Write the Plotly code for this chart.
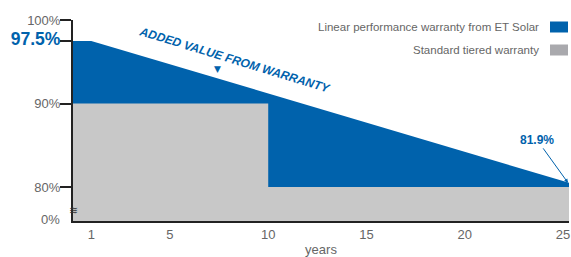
import plotly.graph_objects as go

# ---- data ----
linear_years = [0, 1, 25.3]
linear_values = [97.5, 97.5, 80.5]
tiered_years = [0, 10, 25.3]
tiered_values = [90, 80, 80]

x_tick_vals = [1, 5, 10, 15, 20, 25]
y_tick_vals = [80, 90, 97.5, 100]
y_tick_text = ["80%", "90%", "97.5%", "100%"]
axis_floor = 75.93
floor_label = "0%"
end_label = "81.9%"

series_names = ["Linear performance warranty from ET Solar", "Standard tiered warranty"]
BLUE = "#0062AC"
GRAY_FILL = "#C8C8C8"
GRAY_SWATCH = "#A9A9AD"
TEXT = "#666666"
FONT = "Liberation Sans, Arial, DejaVu Sans, sans-serif"

fig = go.Figure()
fig.add_trace(go.Scatter(x=linear_years, y=linear_values, mode="lines", fill="tozeroy",
                         fillcolor=BLUE, line=dict(width=0, color=BLUE),
                         name=series_names[0], showlegend=False, hoverinfo="skip"))
fig.add_trace(go.Scatter(x=tiered_years, y=tiered_values, mode="lines", fill="tozeroy",
                         line_shape="hv", fillcolor=GRAY_FILL, line=dict(width=0, color=GRAY_FILL),
                         name=series_names[1], showlegend=False, hoverinfo="skip"))

ticktext = []
for v, t in zip(y_tick_vals, y_tick_text):
    if v == 97.5:
        ticktext.append(f"<b><span style='color:{BLUE};font-size:17.5px'>{t}</span></b>")
    else:
        ticktext.append(t)

fig.update_layout(
    width=571, height=257,
    margin=dict(l=73, r=2, t=20, b=36, autoexpand=False),
    paper_bgcolor="white", plot_bgcolor="white",
    font=dict(family=FONT, color=TEXT, size=13),
    xaxis=dict(range=[0.07, 25.3], tickvals=x_tick_vals, showgrid=False, zeroline=False,
               showline=True, linecolor="#222222", linewidth=2, ticks="",
               tickfont=dict(size=13, color=TEXT), ticklabelstandoff=0, automargin=False,
               title=dict(text="years", font=dict(size=13, color=TEXT), standoff=12)),
    yaxis=dict(range=[axis_floor, 100], tickvals=y_tick_vals, ticktext=ticktext,
               showgrid=False, zeroline=False, showline=True, linecolor="#222222", linewidth=2,
               ticks="outside", ticklen=11, tickwidth=2, tickcolor="#222222", automargin=False,
               tickfont=dict(size=13, color=TEXT), ticklabelstandoff=-3),
)

# legend (text left of swatch)
legend_rows = [(series_names[0], BLUE, 27), (series_names[1], GRAY_SWATCH, 50)]
for name, col, ypx in legend_rows:
    yc = 1 - (ypx - 20) / 201
    fig.add_annotation(xref="paper", yref="paper", x=(541 - 73) / 496, y=yc, text=name,
                       showarrow=False, xanchor="right", yanchor="middle",
                       font=dict(size=11.5, color=TEXT, family=FONT))
    fig.add_shape(type="rect", xref="paper", yref="paper",
                  x0=(550 - 73) / 496, x1=(568 - 73) / 496,
                  y0=yc - 5.5 / 201, y1=yc + 5.5 / 201,
                  fillcolor=col, line=dict(width=0))

# "0%" label at axis floor
fig.add_annotation(xref="paper", yref="y", x=0, y=axis_floor, text=floor_label,
                   showarrow=False, xanchor="right", yanchor="middle", xshift=-11, yshift=2,
                   font=dict(size=13, color=TEXT, family=FONT))
# axis break mark
fig.add_annotation(xref="paper", yref="y", x=0, y=axis_floor, text="≋",
                   showarrow=False, xanchor="center", yanchor="middle", yshift=11,
                   font=dict(size=11, color="#333333", family="DejaVu Sans"))

# added value label
fig.add_annotation(xref="x", yref="y", x=8.3, y=95.25, text="<b><i>ADDED VALUE FROM WARRANTY</i></b>",
                   showarrow=False, textangle=17, font=dict(size=12, color=BLUE, family=FONT))
fig.add_annotation(xref="x", yref="y", x=7.4, y=94.1, text="▼", showarrow=False,
                   font=dict(size=9, color=BLUE, family="DejaVu Sans"))

# end value callout
fig.add_annotation(xref="x", yref="y", x=linear_years[-1] - 0.05, y=linear_values[-1],
                   text=f"<b>{end_label}</b>", showarrow=True, arrowhead=2, arrowsize=0.8,
                   arrowwidth=1, arrowcolor=BLUE, ax=-31, ay=-43,
                   font=dict(size=12, color=BLUE, family=FONT))

fig.write_html("out.html", config={"displayModeBar": False},
               post_script="document.body.style.margin='0';document.documentElement.style.overflow='hidden';")
